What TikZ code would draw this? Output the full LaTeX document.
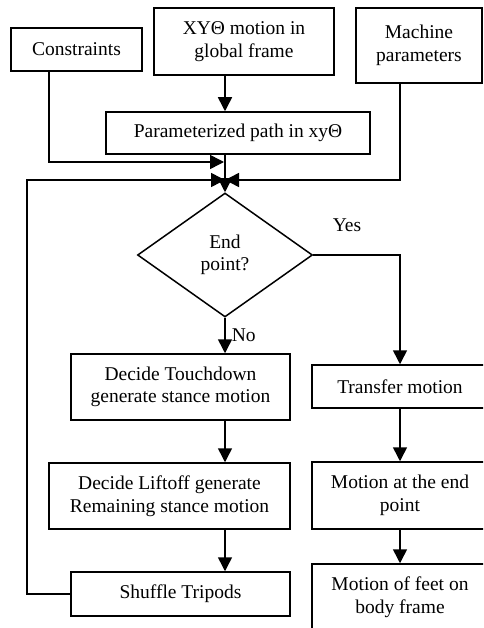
\documentclass[tikz,border=0pt]{standalone}
\usepackage{fontspec}
\setmainfont{Liberation Serif}
\usetikzlibrary{shapes.geometric,arrows.meta}
\begin{document}
\begin{tikzpicture}[x=1pt,y=-1pt,
  every node/.style={font=\fontsize{19.5}{22.5}\selectfont},
  box/.style={draw,line width=1.5pt,align=center,inner sep=0pt,anchor=center},
  arr/.style={line width=1.5pt,-{Triangle[width=14pt,length=14pt]}},
  lbl/.style={inner sep=0pt}]
\useasboundingbox (0,0) rectangle (483,628);
\clip (0,0) rectangle (483,628);
\fill[white] (0,0) rectangle (483,628);
\coordinate (axis) at (225,0);
\coordinate (raxis) at (400,0);
\node[box,minimum width=131pt,minimum height=43pt] (cons) at (76.5,49.5) {Constraints};
\node[box,minimum width=180pt,minimum height=67pt] (xyt) at (244,41.5) {XYΘ motion in\\global frame};
\node[box,minimum width=126pt,minimum height=75pt] (mach) at (419,45.5) {Machine\\parameters};
\node[box,minimum width=264pt,minimum height=42pt] (param) at (238,133) {Parameterized path in xyΘ};
\node[draw,line width=1.5pt,diamond,minimum width=175pt,minimum height=124pt,inner sep=0pt,align=center] (dec) at (225,255) {End\\point?};
\node[box,minimum width=219pt,minimum height=66pt] (touch) at (180.5,387) {Decide Touchdown\\generate stance motion};
\node[box,minimum width=241pt,minimum height=66pt] (lift) at (169.5,496) {Decide Liftoff generate\\Remaining stance motion};
\node[box,minimum width=219pt,minimum height=44pt] (shuf) at (180.5,594) {Shuffle Tripods};
\node[box,minimum width=176pt,minimum height=43pt] (trans) at (400,386.5) {Transfer motion};
\node[box,minimum width=176pt,minimum height=67pt] (mend) at (400,495.5) {Motion at the end\\point};
\node[box,minimum width=176pt,minimum height=66pt] (feet) at (400,597) {Motion of feet on\\body frame};
\coordinate (j1) at (224,162);
\coordinate (j2) at (225,180);
\coordinate (lc) at (27,180);
\draw[arr] (xyt.south -| axis) -- (param.north -| axis);
\draw[arr] (cons.south -| 49,0) |- (j1);
\draw[arr] (param.south -| axis) -- (dec.north);
\draw[arr] (mach.south -| raxis) |- (j2);
\draw[arr] (shuf.west) -| (lc) -- (j2);
\draw[arr] (dec.south) -- node[lbl,right=6pt] {No} (touch.north -| axis);
\draw[arr] (dec.east) -| (trans.north);
\node[lbl] (yes) at (347,225) {Yes};
\draw[arr] (touch.south -| axis) -- (lift.north -| axis);
\draw[arr] (lift.south -| axis) -- (shuf.north -| axis);
\draw[arr] (trans.south) -- (mend.north);
\draw[arr] (mend.south) -- (feet.north);
\end{tikzpicture}
\end{document}
